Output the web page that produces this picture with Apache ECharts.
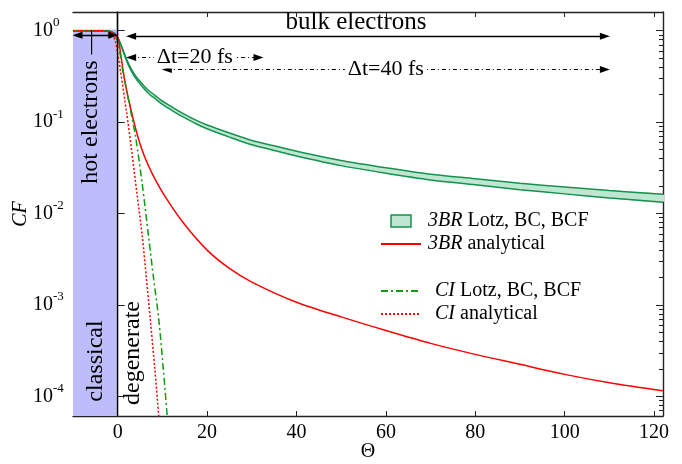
<!DOCTYPE html>
<html>
<head>
<meta charset="utf-8">
<script src="https://cdn.jsdelivr.net/npm/echarts@6/dist/echarts.min.js"></script>
<style>
html, body { margin: 0; padding: 0; background: #fff; }
#chart { width: 682px; height: 464px; }
</style>
</head>
<body>
<div id="chart"></div>
<script>
const FONT = '"Liberation Serif", "Times New Roman", serif';
const X_MIN = -10, X_MAX = 122;
const Y_MIN = 6.1e-5, Y_MAX = 1.6;

const xTicks = [0, 20, 40, 60, 80, 100, 120];
const yTicks = [1e-4, 1e-3, 1e-2, 1e-1, 1];
const minorSteps = [2, 3, 4, 5, 6, 7, 8, 9];

// 3BR Lotz, BC, BCF (band: upper / lower edge)
const bandTheta = [-10, -4, -2, -1, -0.5, 0, 0.6, 1.2, 1.7, 2.3, 3, 3.8, 4.7, 6, 7, 8.4, 9.6, 11, 13, 15.2, 17.5, 20, 25, 30, 35, 40, 50, 60, 70, 80, 90, 100, 110, 122];
const bandUpper = [1.0, 1.0, 0.99, 0.955, 0.92, 0.85, 0.73, 0.615, 0.53, 0.45, 0.385, 0.33, 0.29, 0.245, 0.22, 0.195, 0.175, 0.158, 0.138, 0.12, 0.105, 0.093, 0.076, 0.063, 0.055, 0.048, 0.038, 0.0316, 0.0269, 0.024, 0.0214, 0.0195, 0.0178, 0.0162];
const bandLower = [0.995, 0.995, 0.985, 0.945, 0.905, 0.83, 0.71, 0.595, 0.51, 0.43, 0.366, 0.312, 0.272, 0.228, 0.203, 0.18, 0.161, 0.145, 0.126, 0.11, 0.096, 0.0845, 0.0685, 0.0565, 0.049, 0.0426, 0.0334, 0.0276, 0.0233, 0.0206, 0.0182, 0.0164, 0.0148, 0.0133];

// 3BR analytical
const brTheta = [-10, -4, -2, -1, 0, 0.2, 0.8, 1.7, 2.8, 4, 5, 6.2, 8, 10.7, 14.8, 20, 25, 30, 40, 50, 60, 70, 80, 90, 100, 110, 122];
const brValues = [1.0, 1.0, 0.977, 0.933, 0.83, 0.79, 0.50, 0.263, 0.148, 0.085, 0.0575, 0.0398, 0.0257, 0.0151, 0.00776, 0.00398, 0.00251, 0.00178, 0.00107, 0.00074, 0.000525, 0.00038, 0.000288, 0.000224, 0.000174, 0.000141, 0.000115];

// CI Lotz, BC, BCF
const ciLotzTheta = [-10, -4, -2, -1, 0, 1, 2.5, 4, 5.5, 6.9, 8, 9.2, 10.2, 11.1, 11.5];
const ciLotzValues = [1.0, 1.0, 0.99, 0.933, 0.76, 0.40, 0.166, 0.069, 0.0209, 0.00562, 0.002, 0.00069, 0.0002, 5.9e-5, 3.5e-5];

// CI analytical
const ciAnTheta = [-10, -4, -2, -1.3, -0.5, 0, 0.6, 2, 3.2, 4.3, 5.5, 6.4, 7.3, 8.3, 9.2, 9.6];
const ciAnValues = [1.0, 1.0, 0.977, 0.933, 0.76, 0.56, 0.37, 0.126, 0.0457, 0.0166, 0.00562, 0.002, 0.00069, 0.0002, 5.9e-5, 3.5e-5];

const GREEN = '#14924f';
const GREEN_FILL = '#bfe6d1';
const GREEN_CI = '#0a9f0a';
const RED = '#ff0000';
const AXIS = '#222';
const SMOOTH = 0.3;

const pairs = (xs, ys) => xs.map((x, i) => [x, ys[i]]);

const lg = v => Math.log10(v);
const yMajor = yTicks.map(lg);
const yMinor = [];
yTicks.forEach(t => minorSteps.forEach(m => {
    const v = lg(t * m / 10);
    if (v > lg(Y_MIN) && v < lg(Y_MAX)) yMinor.push(v);
}));

const decoY = (pos, ticks, len, labels) => ({
    type: 'value', position: pos, min: lg(Y_MIN), max: lg(Y_MAX),
    axisLine: { show: len > 5, lineStyle: { color: AXIS, width: 1.4 } },
    axisTick: { inside: true, length: len, customValues: ticks, lineStyle: { color: AXIS, width: 1 } },
    axisLabel: labels ? {
        customValues: yMajor, margin: 40, align: 'left', color: '#000',
        formatter: v => '{b|10}{s|' + Math.round(v) + '}',
        rich: {
            b: { fontFamily: FONT, fontSize: 20, color: '#000' },
            s: { fontFamily: FONT, fontSize: 13, color: '#000', padding: [0, 0, 16, 0] }
        }
    } : { show: false },
    splitLine: { show: false }
});

const lineBase = {
    type: 'line', symbol: 'none', smooth: SMOOTH, clip: true,
    xAxisIndex: 0, yAxisIndex: 0, emphasis: { disabled: true }
};

const noSymbol = { color: 'rgba(0,0,0,0)', borderColor: 'rgba(0,0,0,0)', borderWidth: 0 };

const arrowLabel = text => ({
    show: true, formatter: text, position: 'middle', distance: 0, verticalAlign: 'middle',
    color: '#000', fontFamily: FONT, fontSize: 22, backgroundColor: '#fff', padding: [0, 3]
});

const legendText = pad => ({
    fontFamily: FONT, fontSize: 20, color: '#000', padding: [0, 0, 0, pad],
    rich: { i: { fontFamily: FONT, fontSize: 20, fontStyle: 'italic', color: '#000' } }
});

const vText = (text, x, y) => ({
    type: 'text', x: x, y: y, rotation: Math.PI / 2, z: 50,
    style: { text: text, fontFamily: FONT, fontSize: 24, fill: '#000', align: 'center', verticalAlign: 'middle' }
});

const option = {
    animation: false,
    grid: { left: 73, right: 19, top: 12, bottom: 48, outerBoundsMode: 'none', containLabel: false },
    xAxis: [
        {
            type: 'value', min: X_MIN, max: X_MAX, position: 'bottom',
            name: 'Θ', nameLocation: 'middle', nameGap: 26, nameMoveOverlap: false,
            nameTextStyle: { fontFamily: FONT, fontSize: 20, color: '#000' },
            axisLine: { onZero: false, lineStyle: { color: AXIS, width: 1.4 } },
            axisTick: { inside: true, length: 5, customValues: xTicks, lineStyle: { color: AXIS } },
            axisLabel: { customValues: xTicks, margin: 7, fontFamily: FONT, fontSize: 20, color: '#000' },
            splitLine: { show: false }
        },
        {
            type: 'value', min: X_MIN, max: X_MAX, position: 'top',
            axisLine: { onZero: false, lineStyle: { color: AXIS, width: 1.4 } },
            axisTick: { inside: true, length: 5, customValues: xTicks, lineStyle: { color: AXIS } },
            axisLabel: { show: false },
            splitLine: { show: false }
        }
    ],
    yAxis: [
        { type: 'log', min: Y_MIN, max: Y_MAX, show: false, splitLine: { show: false } },
        Object.assign(decoY('left', yMajor, 7, true), {
            name: 'CF', nameLocation: 'middle', nameGap: 42, nameMoveOverlap: false,
            nameTextStyle: { fontFamily: FONT, fontSize: 20, fontStyle: 'italic', color: '#000' }
        }),
        decoY('left', yMinor, 4, false),
        decoY('right', yMajor, 7, false),
        decoY('right', yMinor, 4, false)
    ],
    legend: [
        {
            orient: 'vertical', left: 375, top: 206, itemGap: 3, itemWidth: 40, itemHeight: 12,
            formatter: n => n.replace(/^(3BR|CI)/, '{i|$1}'),
            textStyle: legendText(2),
            data: [
                { name: '3BR Lotz, BC, BCF', icon: 'path://M0,0M40,12M10,0L30,0L30,12L10,12Z',
                  itemStyle: { color: GREEN_FILL, borderColor: GREEN, borderWidth: 1.5 } },
                { name: '3BR analytical', itemStyle: noSymbol }
            ]
        },
        {
            orient: 'vertical', left: 375, top: 276, itemGap: 3, itemWidth: 40, itemHeight: 12,
            formatter: n => n.replace(/^(3BR|CI)/, '{i|$1}'),
            textStyle: legendText(9),
            data: [
                { name: 'CI Lotz, BC, BCF', itemStyle: noSymbol },
                { name: 'CI analytical', itemStyle: noSymbol }
            ]
        }
    ],
    graphic: [
        vText('hot electrons —', 91, 107),
        vText('classical', 96, 361),
        vText('degenerate', 133, 353),
        { type: 'text', x: 356, y: 22, z: 50,
          style: { text: 'bulk electrons', fontFamily: FONT, fontSize: 25, fill: '#000', align: 'center', verticalAlign: 'middle' } }
    ],
    series: [
        {
            type: 'line', name: 'regions', data: [], z: 1, silent: true,
            markArea: {
                silent: true,
                itemStyle: { color: '#bdbdfb' },
                data: [[{ xAxis: -10, yAxis: 1.03 }, { xAxis: 0, yAxis: Y_MIN }]]
            },
            markLine: {
                silent: true, symbol: ['none', 'none'], label: { show: false },
                lineStyle: { color: '#000', width: 1.3, type: 'solid' },
                data: [[{ coord: [0, Y_MIN] }, { coord: [0, Y_MAX] }]]
            }
        },
        {
            type: 'custom', name: 'band fill', z: 2, silent: true,
            xAxisIndex: 0, yAxisIndex: 0, data: [0],
            renderItem: (params, api) => {
                const top = bandTheta.map((t, i) => api.coord([t, bandUpper[i]]));
                const bottom = bandTheta.map((t, i) => api.coord([t, bandLower[i]])).reverse();
                return {
                    type: 'polygon', shape: { points: top.concat(bottom), smooth: SMOOTH },
                    style: { fill: GREEN_FILL }
                };
            }
        },
        Object.assign({}, lineBase, {
            name: 'band lower', z: 3,
            data: pairs(bandTheta, bandLower),
            lineStyle: { color: GREEN, width: 1.5 }
        }),
        Object.assign({}, lineBase, {
            name: '3BR Lotz, BC, BCF', z: 3,
            data: pairs(bandTheta, bandUpper),
            lineStyle: { color: GREEN, width: 1.5 },
            itemStyle: { color: GREEN }
        }),
        Object.assign({}, lineBase, {
            name: '3BR analytical', z: 4,
            data: pairs(brTheta, brValues),
            lineStyle: { color: RED, width: 1.5 },
            itemStyle: { color: RED }
        }),
        Object.assign({}, lineBase, {
            name: 'CI Lotz, BC, BCF', z: 4,
            data: pairs(ciLotzTheta, ciLotzValues),
            lineStyle: { color: GREEN_CI, width: 1.5, type: [7, 3, 2, 3] },
            itemStyle: { color: GREEN_CI }
        }),
        Object.assign({}, lineBase, {
            name: 'CI analytical', z: 4,
            data: pairs(ciAnTheta, ciAnValues),
            lineStyle: { color: RED, width: 1.5, type: [2, 2] },
            itemStyle: { color: RED }
        }),
        {
            type: 'line', name: 'arrows', data: [], z: 6, silent: true,
            markLine: {
                silent: true, symbol: ['triangle', 'triangle'], symbolSize: [7, 10],
                lineStyle: { color: '#000', width: 1.3, type: 'solid' },
                label: { show: false },
                data: [
                    [{ coord: [-9, 0.89] }, { coord: [-1, 0.89] }],
                    [{ coord: [3, 0.87] }, { coord: [109, 0.87] }],
                    [{ coord: [3, 0.51], lineStyle: { type: [4, 3, 1, 3], width: 1.2 }, label: arrowLabel('Δt=20 fs') },
                     { coord: [31.5, 0.51] }],
                    [{ coord: [11, 0.377], lineStyle: { type: [4, 3, 1, 3], width: 1.2 }, label: arrowLabel('Δt=40 fs') },
                     { coord: [109, 0.377] }]
                ]
            }
        }
    ]
};

echarts.init(document.getElementById('chart')).setOption(option);
</script>
</body>
</html>
